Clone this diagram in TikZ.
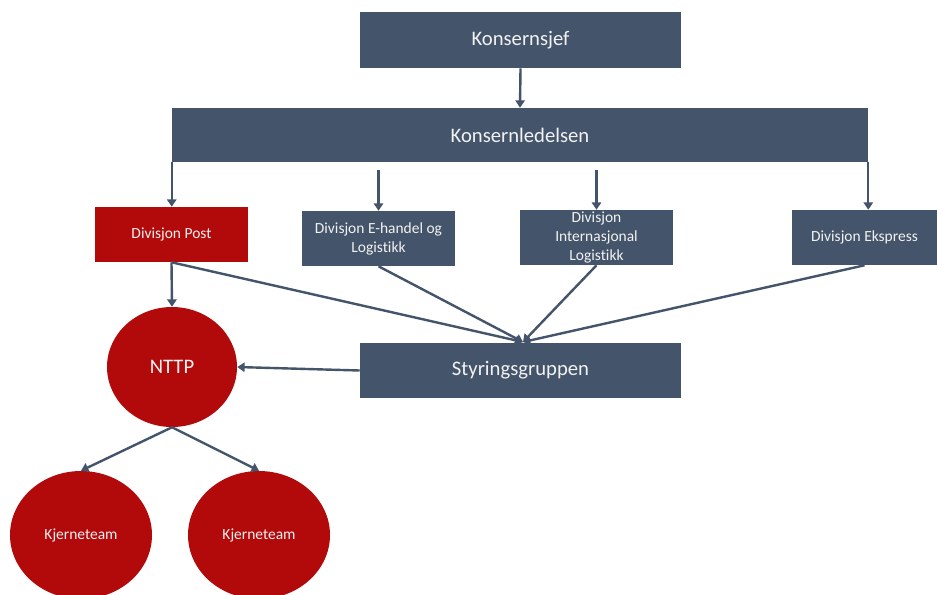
\documentclass[tikz,border=0pt]{standalone}
\usepackage{fontspec}
\setmainfont{Carlito}[Ligatures=NoCommon]
\usetikzlibrary{shapes.geometric,arrows.meta}
\definecolor{slate}{HTML}{44546A}
\definecolor{postred}{HTML}{B20A0A}
\definecolor{labelwhite}{HTML}{F2F2F2}
\begin{document}
\begin{tikzpicture}[x=0.75pt,y=-0.75pt,
  box/.style={rectangle,fill=slate,text=labelwhite,inner sep=0pt,align=center},
  bigbox/.style={box,font=\fontsize{15.5}{18}\selectfont},
  divbox/.style={box,font=\fontsize{11.6}{14.2}\selectfont,minimum width=114.75pt,minimum height=41.25pt},
  redbox/.style={divbox,fill=postred},
  blob/.style={ellipse,fill=postred,text=labelwhite,inner sep=0pt},
  arr/.style={draw=slate,line width=1.8pt,-{Triangle[width=7pt,length=5.5pt]}}]
\useasboundingbox[fill=white] (0,0) rectangle (937,594);

% top management
\node[bigbox,minimum width=240.75pt,minimum height=42pt] (ceo) at (520.5,40) {Konsernsjef};
\node[bigbox,minimum width=522pt,minimum height=40.5pt] (kl) at (520,135) {Konsernledelsen};

% divisions
\node[redbox] (post) at (171.5,234.5) {Divisjon Post};
\node[divbox] (eh) at (378.5,238.5) {Divisjon E-handel og\\Logistikk};
\node[divbox] (il) at (596.5,237.5) {Divisjon\\Internasjonal\\Logistikk};
\node[divbox,minimum width=108.75pt] (ek) at (864.5,237.5) {Divisjon Ekspress};

% steering group
\node[bigbox,minimum width=240.75pt,minimum height=41.25pt] (sg) at (520.5,370.5) {Styringsgruppen};
\coordinate (conv) at (523,342);

% program and core teams
\node[blob,minimum width=97.5pt,minimum height=90pt,font=\fontsize{15.5}{18}\selectfont] (nttp) at (172,367) {NTTP};
\node[blob,minimum width=106.5pt,minimum height=96pt,font=\fontsize{11.6}{14}\selectfont] (k1) at (81,535) {Kjerneteam};
\node[blob,minimum width=106.5pt,minimum height=96pt,font=\fontsize{11.6}{14}\selectfont] (k2) at (259,535) {Kjerneteam};

% connectors
\draw[arr] (ceo.south) -- (kl.north);
\draw[arr] (kl.south west) -- (post.north -| kl.south west);
\draw[arr,shorten <=6pt] (kl.south -| eh.north) -- (eh.north);
\draw[arr,shorten <=6pt] (kl.south -| il.north) -- (il.north);
\draw[arr] (kl.south east) -- (ek.north -| kl.south east);

\draw[arr] (post.south) -- (nttp.north);
\draw[arr] (post.south) -- (conv);
\draw[arr] (eh.south) -- (conv);
\draw[arr] (il.south) -- (conv);
\draw[arr] (ek.south) -- (conv);

\draw[arr] (sg.west) -- (nttp.east);
\draw[arr] (nttp.south) -- (k1.north);
\draw[arr] (nttp.south) -- (k2.north);
\end{tikzpicture}
\end{document}
